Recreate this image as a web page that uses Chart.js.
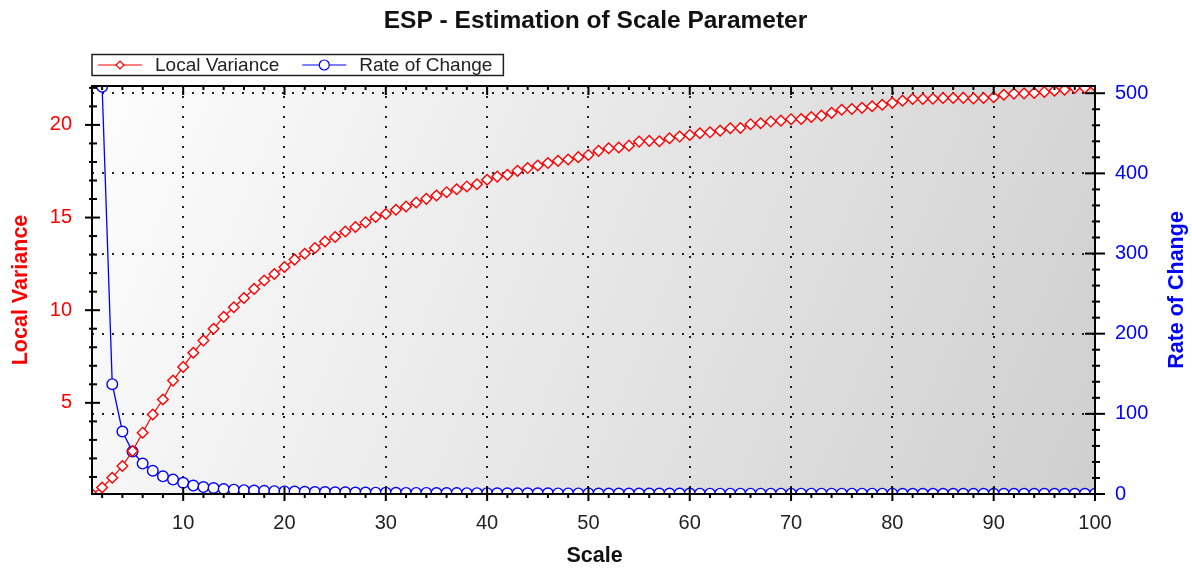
<!DOCTYPE html>
<html>
<head>
<meta charset="utf-8">
<title>ESP - Estimation of Scale Parameter</title>
<script src="https://cdn.jsdelivr.net/npm/chart.js@4.4.1/dist/chart.umd.min.js"></script>
<style>
  html, body { margin: 0; padding: 0; background: #fff; }
  #wrap { width: 1192px; height: 568px; position: relative; }
</style>
</head>
<body>
<div id="wrap"><canvas id="espChart"></canvas></div>
<script>
// Data
const scaleLevels = [
  1, 2, 3, 4, 5, 6, 7, 8, 9, 10,
  11, 12, 13, 14, 15, 16, 17, 18, 19, 20,
  21, 22, 23, 24, 25, 26, 27, 28, 29, 30,
  31, 32, 33, 34, 35, 36, 37, 38, 39, 40,
  41, 42, 43, 44, 45, 46, 47, 48, 49, 50,
  51, 52, 53, 54, 55, 56, 57, 58, 59, 60,
  61, 62, 63, 64, 65, 66, 67, 68, 69, 70,
  71, 72, 73, 74, 75, 76, 77, 78, 79, 80,
  81, 82, 83, 84, 85, 86, 87, 88, 89, 90,
  91, 92, 93, 94, 95, 96, 97, 98, 99, 100
];

const localVariance = [
  0.08, 0.43, 0.96, 1.59, 2.40, 3.39, 4.37, 5.18, 6.20, 6.94,
  7.70, 8.36, 9.00, 9.64, 10.16, 10.66, 11.15, 11.60, 11.95, 12.33,
  12.73, 13.05, 13.36, 13.71, 13.95, 14.25, 14.49, 14.74, 15.03, 15.19,
  15.42, 15.60, 15.81, 16.01, 16.19, 16.37, 16.53, 16.68, 16.80, 17.04,
  17.21, 17.31, 17.52, 17.67, 17.81, 17.94, 18.06, 18.13, 18.26, 18.38,
  18.60, 18.74, 18.78, 18.88, 19.10, 19.14, 19.12, 19.28, 19.37, 19.46,
  19.55, 19.60, 19.69, 19.82, 19.83, 20.04, 20.09, 20.18, 20.23, 20.31,
  20.32, 20.43, 20.50, 20.65, 20.82, 20.86, 20.92, 21.01, 21.09, 21.19,
  21.31, 21.40, 21.40, 21.41, 21.45, 21.45, 21.46, 21.43, 21.45, 21.49,
  21.63, 21.69, 21.70, 21.72, 21.78, 21.85, 21.90, 22.00, 22.01, 22.09
];

const rateOfChange = [
  null, 508, 137, 78, 53, 38, 29, 22, 18, 14,
  10.5, 8.7, 7.5, 6.2, 5.4, 4.8, 4.3, 3.9, 3.5, 3.2,
  3.0, 2.7, 2.5, 2.4, 2.2, 2.1, 1.9, 1.8, 1.7, 1.6,
  1.5, 1.4, 1.35, 1.3, 1.2, 1.15, 1.1, 1.05, 1.0, 1.0,
  0.95, 0.9, 0.9, 0.85, 0.8, 0.8, 0.75, 0.7, 0.7, 0.7,
  0.65, 0.65, 0.6, 0.6, 0.6, 0.55, 0.5, 0.5, 0.5, 0.5,
  0.45, 0.45, 0.45, 0.45, 0.4, 0.4, 0.4, 0.4, 0.4, 0.4,
  0.35, 0.35, 0.35, 0.35, 0.35, 0.35, 0.35, 0.35, 0.35, 0.35,
  0.3, 0.3, 0.3, 0.3, 0.3, 0.3, 0.3, 0.3, 0.3, 0.3,
  0.3, 0.3, 0.3, 0.3, 0.3, 0.3, 0.3, 0.3, 0.3, 0.3
];

const scaleTicks = [10, 20, 30, 40, 50, 60, 70, 80, 90, 100];
const varianceTicks = [5, 10, 15, 20];
const rateTicks = [0, 100, 200, 300, 400, 500];

const FONT = '"Liberation Sans", Arial, sans-serif';

// plot background, frame, tick marks, title, legend and axis titles
const espDecor = {
  id: 'espDecor',
  beforeDraw(chart) {
    const { ctx, chartArea: a } = chart;
    const g = ctx.createLinearGradient(a.left, a.top, a.right, a.bottom);
    g.addColorStop(0, '#fdfdfd');
    g.addColorStop(1, '#cfcfcf');
    ctx.save();
    ctx.fillStyle = g;
    ctx.fillRect(a.left, a.top, a.right - a.left, a.bottom - a.top);
    ctx.restore();
  },
  afterDatasetsDraw(chart) {
    const { ctx, chartArea: a, scales } = chart;
    ctx.save();
    ctx.strokeStyle = '#000';
    ctx.lineWidth = 2;
    ctx.strokeRect(a.left, a.top, a.right - a.left, a.bottom - a.top);

    const line = (x1, y1, x2, y2) => {
      ctx.beginPath();
      ctx.moveTo(x1, y1);
      ctx.lineTo(x2, y2);
      ctx.stroke();
    };
    const eachTick = (scale, majors, step, fn) => {
      const start = Math.ceil(scale.min / step) * step;
      for (let v = start; v <= scale.max + 1e-9; v += step) {
        fn(scale.getPixelForValue(v), majors.includes(v));
      }
    };

    eachTick(scales.x, scaleTicks, 2, (p, major) => {
      if (major) {
        line(p, a.bottom - 7, p, a.bottom + 7);
        line(p, a.top, p, a.top + 9);
      } else {
        line(p, a.bottom, p, a.bottom + 4);
        line(p, a.top, p, a.top + 4);
      }
    });
    eachTick(scales.y, varianceTicks, 1, (p, major) => {
      if (major) line(a.left - 7, p, a.left + 8, p);
      else line(a.left - 3, p, a.left + 5, p);
    });
    eachTick(scales.y1, rateTicks, 20, (p, major) => {
      if (major) line(a.right - 10, p, a.right + 10, p);
      else line(a.right - 3, p, a.right + 5, p);
    });
    ctx.restore();
  },
  afterDraw(chart) {
    const { ctx, chartArea: a } = chart;
    const midY = (a.top + a.bottom) / 2;
    ctx.save();

    // chart title
    ctx.fillStyle = '#111';
    ctx.font = 'bold 24.5px ' + FONT;
    ctx.textAlign = 'center';
    ctx.textBaseline = 'middle';
    ctx.fillText('ESP - Estimation of Scale Parameter', (a.left + a.right) / 2 + 2, 21);

    // axis titles
    ctx.font = 'bold 21.5px ' + FONT;
    ctx.fillText('Scale', (a.left + a.right) / 2 + 1, 556);

    ctx.save();
    ctx.translate(21, midY);
    ctx.rotate(-Math.PI / 2);
    ctx.fillStyle = '#ff0000';
    ctx.fillText('Local Variance', 0, 0);
    ctx.restore();

    ctx.save();
    ctx.translate(1177, midY);
    ctx.rotate(-Math.PI / 2);
    ctx.fillStyle = '#0000ff';
    ctx.fillText('Rate of Change', 0, 0);
    ctx.restore();

    // legend box
    const boxTop = 54.5, boxH = 21, cy = boxTop + boxH / 2;
    ctx.font = '19px ' + FONT;
    ctx.textAlign = 'left';
    let x = a.left + 6;
    const items = chart.data.datasets.map(ds => {
      const w = ctx.measureText(ds.label).width;
      const item = { ds, x, w };
      x += 44 + 13 + w + 23;
      return item;
    });
    const boxRight = x - 23 + 11;
    ctx.fillStyle = '#fff';
    ctx.fillRect(a.left, boxTop, boxRight - a.left, boxH);
    ctx.strokeStyle = '#222';
    ctx.lineWidth = 1.5;
    ctx.strokeRect(a.left, boxTop, boxRight - a.left, boxH);

    items.forEach(({ ds, x: ix }) => {
      ctx.strokeStyle = ds.borderColor;
      ctx.lineWidth = 1.2;
      ctx.beginPath();
      ctx.moveTo(ix, cy);
      ctx.lineTo(ix + 44, cy);
      ctx.stroke();
      ctx.fillStyle = '#fff';
      Chart.helpers.drawPoint(ctx, {
        pointStyle: ds.pointStyle,
        radius: ds.pointStyle === 'circle' ? 5 : 4,
        borderWidth: 1.4
      }, ix + 22, cy);
      ctx.fillStyle = '#222';
      ctx.fillText(ds.label, ix + 57, cy + 1);
    });
    ctx.restore();
  }
};

const tickFont = { family: FONT, size: 20 };

new Chart(document.getElementById('espChart'), {
  type: 'line',
  data: {
    datasets: [{
      label: 'Local Variance',
      data: scaleLevels.map((s, i) => ({ x: s, y: localVariance[i] })),
      yAxisID: 'y',
      borderColor: '#ff0000',
      borderWidth: 1.2,
      pointStyle: 'rectRot',
      pointRadius: 5.3,
      pointBorderWidth: 1.4,
      pointBorderColor: '#ff0000',
      pointBackgroundColor: '#ffffff',
      tension: 0,
      clip: 0
    }, {
      label: 'Rate of Change',
      data: scaleLevels.map((s, i) => ({ x: s, y: rateOfChange[i] })),
      yAxisID: 'y1',
      borderColor: '#0000ff',
      borderWidth: 1.3,
      pointStyle: 'circle',
      pointRadius: 5.3,
      pointBorderWidth: 1.4,
      pointBorderColor: '#0000ff',
      pointBackgroundColor: '#ffffff',
      tension: 0,
      clip: 0
    }]
  },
  options: {
    responsive: true,
    maintainAspectRatio: false,
    animation: false,
    layout: { padding: { top: 86, left: 0, right: 0, bottom: 0 } },
    plugins: {
      legend: { display: false },
      title: { display: false },
      tooltip: { enabled: false }
    },
    scales: {
      x: {
        type: 'linear',
        min: 1,
        max: 100,
        afterBuildTicks: s => { s.ticks = scaleTicks.map(v => ({ value: v })); },
        afterFit: s => { s.height = 74; },
        grid: { color: '#222', lineWidth: 2, tickLength: 8, tickColor: 'transparent' },
        border: { display: false, dash: [2, 8] },
        ticks: { color: '#222', font: tickFont, padding: 9, maxRotation: 0, autoSkip: false }
      },
      y: {
        position: 'left',
        min: 0.08,
        max: 22.1,
        afterBuildTicks: s => { s.ticks = varianceTicks.map(v => ({ value: v })); },
        afterFit: s => { s.width = 92; },
        grid: { drawOnChartArea: false, tickLength: 8, tickColor: 'transparent' },
        border: { display: false },
        ticks: { color: '#ff0000', font: tickFont, padding: 12 }
      },
      y1: {
        position: 'right',
        min: 0,
        max: 509,
        afterBuildTicks: s => { s.ticks = rateTicks.map(v => ({ value: v })); },
        afterFit: s => { s.width = 97; },
        grid: { color: '#222', lineWidth: 2, tickLength: 8, tickColor: 'transparent' },
        border: { display: false, dash: [2, 8] },
        ticks: { color: '#0000ff', font: tickFont, padding: 12 }
      }
    }
  },
  plugins: [espDecor]
});
</script>
</body>
</html>
